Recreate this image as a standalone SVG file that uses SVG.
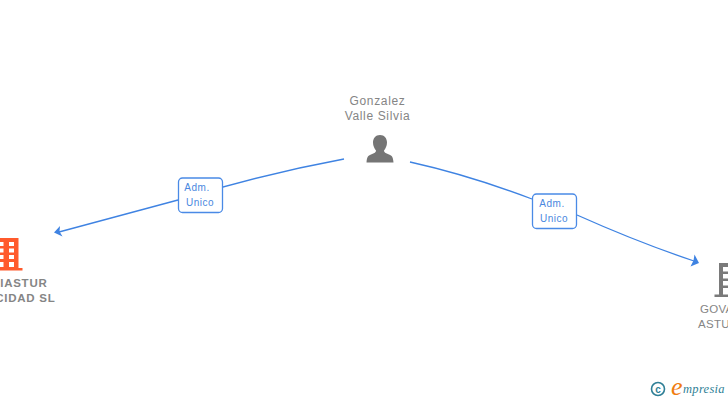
<svg xmlns="http://www.w3.org/2000/svg" width="728" height="400" viewBox="0 0 728 400">
<style>
.n{font:12px "Liberation Sans",Arial,sans-serif;fill:#858585;letter-spacing:.65px;text-anchor:middle}
.b{font-weight:700;font-size:11.500px;letter-spacing:.75px;text-anchor:end}
.s{text-anchor:start;letter-spacing:.3px;font-size:11.500px}
.l{font:10px "Liberation Sans",Arial,sans-serif;fill:#4a88e0;letter-spacing:.5px;text-anchor:middle}
.c{fill:none;stroke:#3f83e2;stroke-width:1.3}
.a{fill:#3f83e2}
.r{fill:#fff;stroke:#4a8ae6;stroke-width:1.3}
.t{fill:#2f7f96}
</style>
<rect width="728" height="400" fill="#fff"/>
<g id="connectors">
<path class="c" d="M344 159C290 169 240 181 178 200"/>
<path class="c" d="M178 200L59 232"/>
<path class="a" d="M54 232.500L60 226L59.500 231.500L62.500 236.500Z"/>
<path class="c" d="M410 162C455 172 495 185 532 199"/>
<path class="c" d="M577 215C615 232 655 248 694 261"/>
<path class="a" d="M699 263L694.500 254.500L693.500 260.500L690.500 266.500Z"/>
</g>
<g id="label1"><rect class="r" x="178.500" y="178" width="44" height="34.500" rx="4"/><text class="l" x="197" y="191">Adm.</text><text class="l" x="200" y="206">Unico</text></g>
<g id="label2"><rect class="r" x="532.500" y="194" width="44" height="34.500" rx="4"/><text class="l" x="552" y="207">Adm.</text><text class="l" x="554" y="222">Unico</text></g>
<g id="person">
<text class="n" x="377.500" y="105">Gonzalez</text><text class="n" x="377.500" y="120">Valle Silvia</text>
<path fill="#757575" d="M380 135C375.500 135 373 138.500 373 142.500C373 146 374.500 148.500 376 150.500C376 152.500 374.500 153 371 154.500C368 155.500 367 157 366.500 162.500H393.500C393 157 392 155.500 389 154.500C385.500 153 384 152.500 384 150.500C385.500 148.500 387 146 387 142.500C387 138.500 384.500 135 380 135Z"/>
</g>
<g id="company1">
<path fill="#ff5a2c" fill-rule="evenodd" d="M0 238H18.500V268H22.500V270.500H0ZM0 242V246H3.500V242ZM9 242V246H14V242ZM0 248.500V252.500H3.500V248.500ZM9 248.500V252.500H14V248.500ZM0 255V259H3.500V255ZM9 255V259H14V255ZM0 262V267H3.500V262ZM9 262V267H14V262Z"/>
<text class="n b" x="47.500" y="287">IASTUR</text><text class="n b" x="55.500" y="302">CIDAD SL</text>
</g>
<g id="company2">
<path fill="#7a7a7a" fill-rule="evenodd" d="M719 263H728V267H723V271.500H728V274H723V278.500H728V281H723V285.500H728V288H723V294.500H728V297H714.500V294.500H719Z"/>
<text class="n s" x="700" y="313">GOVA</text><text class="n s" x="698" y="328">ASTU</text>
</g>
<g id="logo">
<circle cx="658" cy="389" r="6.500" fill="none" stroke="#2f7f96" stroke-width="1.600"/>
<text class="t" x="658" y="392.500" font-family="Liberation Sans,sans-serif" font-size="10" font-weight="700" text-anchor="middle">c</text>
<text x="671" y="395" font-family="Liberation Serif,serif" font-style="italic" font-size="26" fill="#f07c10">e</text>
<text class="t" x="683" y="393" font-family="Liberation Serif,serif" font-style="italic" font-size="12.500" letter-spacing=".3">mpresia</text>
</g>
</svg>
